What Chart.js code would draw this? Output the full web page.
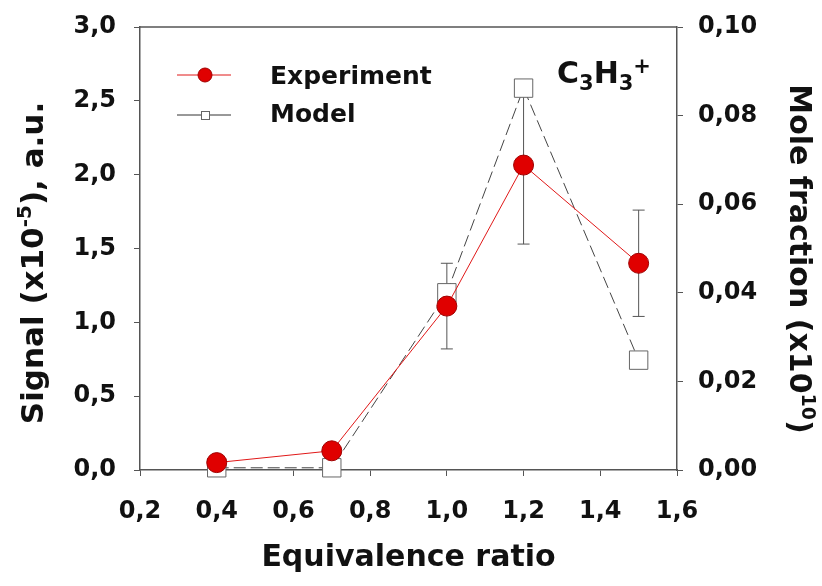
<!DOCTYPE html>
<html>
<head>
  <meta charset="UTF-8">
  <title>C3H3+ signal vs equivalence ratio</title>
  <script src="https://cdn.jsdelivr.net/npm/chart.js"></script>
  <style>
    body { margin: 0; background: #fff; }
    canvas { display: block; }
  </style>
</head>
<body>
  <canvas id="c3h3Chart" width="822" height="586"></canvas>

  <script>
    // measured points
    const ratio = [0.4, 0.7, 1.0, 1.2, 1.5];
    const signal = [0.05, 0.13, 1.11, 2.065, 1.40];          // x10^-5 a.u.
    const signalErr = [0, 0, 0.29, 0.535, 0.36];
    const moleFraction = [0.0005, 0.0005, 0.040, 0.0862, 0.0248]; // x10^10

    // axis ticks
    const ratioTicks = [0.2, 0.4, 0.6, 0.8, 1.0, 1.2, 1.4, 1.6];
    const signalTicks = [0, 0.5, 1.0, 1.5, 2.0, 2.5, 3.0];
    const fractionTicks = [0, 0.02, 0.04, 0.06, 0.08, 0.10];

    const FONT = 'DejaVu Sans';
    const AXIS = '#555';
    const comma = (v, d) => v.toFixed(d).replace('.', ',');
    const fixedTicks = list => scale => { scale.ticks = list.map(v => ({ value: v })); };
    // fixed axis box; the end labels may spill past it
    const fixedWidth = w => s => { s.width = w; s.paddingTop = 0; s.paddingBottom = 0; };

    // write a line made of pieces with different sizes / baseline shifts
    function runsWidth(ctx, runs) {
      let w = 0;
      runs.forEach(([t, size]) => {
        ctx.font = `bold ${size}px "${FONT}"`;
        w += ctx.measureText(t).width;
      });
      return w;
    }
    function drawRuns(ctx, runs, x, y) {
      runs.forEach(([t, size, shift]) => {
        ctx.font = `bold ${size}px "${FONT}"`;
        ctx.fillText(t, x, y + shift);
        x += ctx.measureText(t).width;
      });
    }

    // vertical error bars, drawn below the markers
    const errorBars = {
      id: 'errorBars',
      beforeDatasetsDraw(chart) {
        const { ctx, scales } = chart;
        ctx.save();
        ctx.strokeStyle = '#555';
        ctx.lineWidth = 1;
        ratio.forEach((r, i) => {
          if (!signalErr[i]) return;
          const x = scales.x.getPixelForValue(r);
          const top = scales.y.getPixelForValue(signal[i] + signalErr[i]);
          const bot = scales.y.getPixelForValue(signal[i] - signalErr[i]);
          ctx.beginPath();
          ctx.moveTo(x, top); ctx.lineTo(x, bot);
          ctx.moveTo(x - 6, top); ctx.lineTo(x + 6, top);
          ctx.moveTo(x - 6, bot); ctx.lineTo(x + 6, bot);
          ctx.stroke();
        });
        ctx.restore();
      }
    };

    // frame top, legend, species label and axis titles
    const decorations = {
      id: 'decorations',
      afterDraw(chart) {
        const { ctx, chartArea: a } = chart;
        ctx.save();

        ctx.strokeStyle = AXIS;
        ctx.lineWidth = 1.5;
        ctx.beginPath();
        ctx.moveTo(a.left, a.top);
        ctx.lineTo(a.right, a.top);
        ctx.stroke();

        // legend
        const exp = chart.data.datasets[0];
        const mod = chart.data.datasets[1];
        ctx.lineWidth = 1;
        ctx.strokeStyle = exp.borderColor;
        ctx.beginPath(); ctx.moveTo(177, 75); ctx.lineTo(231, 75); ctx.stroke();
        ctx.fillStyle = exp.pointBackgroundColor;
        ctx.strokeStyle = exp.pointBorderColor;
        ctx.beginPath(); ctx.arc(205, 75, 7, 0, Math.PI * 2); ctx.fill(); ctx.stroke();

        ctx.strokeStyle = '#333';
        ctx.beginPath(); ctx.moveTo(177, 115); ctx.lineTo(231, 115); ctx.stroke();
        ctx.fillStyle = '#fff';
        ctx.strokeStyle = mod.pointBorderColor;
        ctx.fillRect(201, 111, 8, 8);
        ctx.strokeRect(201.5, 111.5, 8, 8);

        ctx.fillStyle = '#111';
        ctx.textBaseline = 'middle';
        ctx.font = `bold 25px "${FONT}"`;
        ctx.fillText('Experiment', 270, 77);
        ctx.fillText('Model', 270, 115);

        ctx.textBaseline = 'alphabetic';
        drawRuns(ctx, [['C', 30, 0], ['3', 21, 7], ['H', 30, 0], ['3', 21, 7], ['+', 21, -10]], 557, 83);

        // x title
        ctx.textAlign = 'center';
        ctx.font = `bold 30px "${FONT}"`;
        ctx.fillText('Equivalence ratio', (a.left + a.right) / 2, 566);
        ctx.textAlign = 'left';

        // left title
        const left = [['Signal (x10', 31, 0], ['-5', 20, -12], ['), a.u.', 31, 0]];
        ctx.save();
        ctx.translate(43, 263);
        ctx.rotate(-Math.PI / 2);
        drawRuns(ctx, left, -runsWidth(ctx, left) / 2, 0);
        ctx.restore();

        // right title
        const right = [['Mole fraction (x10', 30, 0], ['10', 19, -12], [')', 30, 0]];
        ctx.save();
        ctx.translate(790, 259);
        ctx.rotate(Math.PI / 2);
        drawRuns(ctx, right, -runsWidth(ctx, right) / 2, 0);
        ctx.restore();

        ctx.restore();
      }
    };

    const tickFont = { family: FONT, weight: 'bold', size: 24 };
    const grid = { drawOnChartArea: false, tickLength: 6, color: AXIS };
    const border = { color: AXIS, width: 1.5 };

    const ctx = document.getElementById('c3h3Chart').getContext('2d');
    new Chart(ctx, {
      type: 'line',
      data: {
        datasets: [{
          label: 'Experiment',
          data: ratio.map((r, i) => ({ x: r, y: signal[i] })),
          yAxisID: 'y',
          borderColor: '#e01818',
          borderWidth: 1,
          pointRadius: 10,
          pointBackgroundColor: '#e00000',
          pointBorderColor: '#a00000',
          pointBorderWidth: 1,
          clip: false
        }, {
          label: 'Model',
          data: ratio.map((r, i) => ({ x: r, y: moleFraction[i] })),
          yAxisID: 'y1',
          borderColor: '#444',
          borderWidth: 1,
          borderDash: [12, 5],
          pointStyle: 'rect',
          pointRadius: 13,
          pointBackgroundColor: '#fff',
          pointBorderColor: '#666',
          pointBorderWidth: 1,
          clip: false
        }]
      },
      options: {
        responsive: false,
        animation: false,
        events: [],
        layout: { padding: { top: 27 } },
        plugins: { legend: { display: false }, tooltip: { enabled: false } },
        scales: {
          x: {
            type: 'linear', min: 0.2, max: 1.6,
            afterBuildTicks: fixedTicks(ratioTicks),
            afterFit: s => { s.height = 116; s.paddingLeft = 0; s.paddingRight = 0; },
            grid, border,
            ticks: { padding: 21, color: '#111', font: tickFont, callback: v => comma(v, 1) }
          },
          y: {
            position: 'left', min: 0, max: 3,
            afterBuildTicks: fixedTicks(signalTicks),
            afterFit: fixedWidth(140),
            grid, border,
            ticks: { padding: 18, color: '#111', font: tickFont, callback: v => comma(v, 1) }
          },
          y1: {
            position: 'right', min: 0, max: 0.1,
            afterBuildTicks: fixedTicks(fractionTicks),
            afterFit: fixedWidth(145),
            grid, border,
            ticks: { padding: 15, color: '#111', font: tickFont, callback: v => comma(v, 2) }
          }
        }
      },
      plugins: [errorBars, decorations]
    });
  </script>
</body>
</html>
